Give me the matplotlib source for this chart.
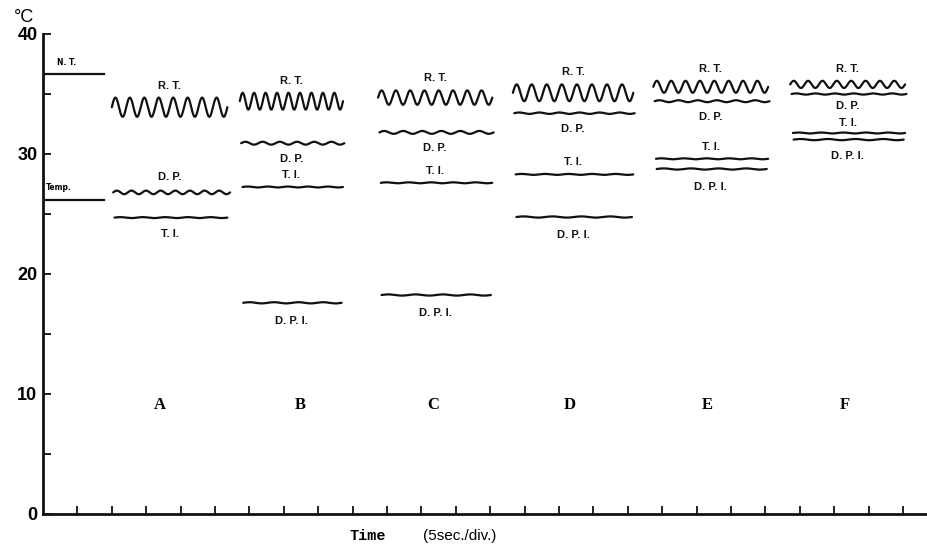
import numpy as np
import matplotlib.pyplot as plt

# Readings: x in seconds (5 s per division), y in deg C
groups = ['A', 'B', 'C', 'D', 'E', 'F']
group_x = [17.0, 37.4, 56.7, 76.6, 96.5, 116.6]

seg_start = [10.0, 28.6, 48.7, 68.3, 88.7, 108.6]
seg_end = [26.8, 43.6, 65.3, 85.8, 105.4, 125.3]

# room temperature (R.T.), oscillating
rt_level = [33.9, 34.4, 34.7, 35.1, 35.6, 35.8]
rt_amp = [0.8, 0.7, 0.6, 0.7, 0.5, 0.3]
rt_cycles = [8, 9, 8, 8, 8, 8]

# dew point (D.P.)
dp_level = [26.8, 30.9, 31.8, 33.4, 34.4, 35.0]
dp_amp = [0.15, 0.12, 0.12, 0.06, 0.08, 0.05]
dp_cycles = [8, 6, 6, 6, 6, 6]

# T.I. and D.P.I. (flat)
ti_level = [24.7, 27.25, 27.6, 28.3, 29.6, 31.75]
dpi_level = [None, 17.6, 18.25, 24.75, 28.75, 31.2]

# reference lines at the left
nt_level = 36.7
temp_level = 26.2
ref_end = 8.9

plt.rcParams['font.family'] = ['DejaVu Sans']

fig = plt.figure(figsize=(9.28, 5.53), dpi=100)
ax = fig.add_axes([43 / 928, 1 - 514 / 553, 1 - 43 / 928, 480 / 553])


def trace(x0, x1, level, amp=0.0, cycles=0):
    x = np.linspace(x0, x1, 400)
    y = level + amp * np.sin(2 * np.pi * cycles * (x - x0) / (x1 - x0))
    ax.plot(x, y, color='#111111', lw=1.6, solid_capstyle='round')


def label(x, y, text, dy):
    ax.annotate(text, (x, y), xytext=(0, dy), textcoords='offset pixels',
                ha='center', va='center', fontsize=8, fontweight='bold',
                family='Liberation Sans', color='#111111')


for i in range(len(groups)):
    x0, x1 = seg_start[i], seg_end[i]
    xc = (x0 + x1) / 2
    last = i == len(groups) - 1
    # R.T.
    trace(x0, x1, rt_level[i], rt_amp[i], rt_cycles[i])
    label(xc, rt_level[i] + rt_amp[i], 'R. T.', 12)
    # D.P.
    trace(x0 + 0.2, x1 + (0.4 if i == 0 else 0.2), dp_level[i], dp_amp[i], dp_cycles[i])
    if i == 0:
        label(xc, dp_level[i], 'D. P.', 15)
    else:
        label(xc, dp_level[i], 'D. P.', -12 if last else -16)
    # T.I.
    trace(x0 + 0.4, x1, ti_level[i], 0.04, 5)
    if i == 0:
        label(xc, ti_level[i], 'T. I.', -16)
    else:
        label(xc, ti_level[i], 'T. I.', 10 if last else 12)
    # D.P.I.
    if dpi_level[i] is not None:
        trace(x0 + 0.5, x1 - 0.2, dpi_level[i], 0.05, 4)
        label(xc, dpi_level[i], 'D. P. I.', -16 if last else -18)
    ax.text(group_x[i], 9.1, groups[i], ha='center', va='center',
            fontsize=12, fontweight='bold', family='Liberation Serif')

# N.T. and Temp. reference lines
ax.plot([0, ref_end], [nt_level, nt_level], color='#111111', lw=1.6)
ax.plot([0, ref_end], [temp_level, temp_level], color='#111111', lw=1.6)
ax.text(2.0, nt_level + 0.7, 'N. T.', fontsize=5.5, fontweight='bold')
ax.text(0.4, temp_level + 0.8, 'Temp.', fontsize=5.5, fontweight='bold')

ax.set_xlim(0, (928 - 43) / 6.88)
ax.set_ylim(0, 40)
ax.set_xticks(np.arange(5, 126, 5))
ax.set_xticklabels([])
ax.set_yticks(np.arange(0, 41, 5))
ax.set_yticklabels(['0', '', '10', '', '20', '', '30', '', '40'],
                   fontsize=13, fontweight='bold', family='Liberation Sans')
ax.tick_params(axis='both', direction='in', length=6, width=1.3, color='#111111')
ax.tick_params(axis='y', pad=4)
for s in ['top', 'right']:
    ax.spines[s].set_visible(False)
for s in ['left', 'bottom']:
    ax.spines[s].set_linewidth(2)
    ax.spines[s].set_color('#111111')

fig.text(24 / 928, 1 - 18 / 553, '°C', ha='center', va='center', fontsize=13,
         family='Liberation Sans')
fig.text(368 / 928, 1 - 536 / 553, 'Time', ha='center', va='center', fontsize=11,
         fontweight='bold', family='Liberation Mono')
fig.text(460 / 928, 1 - 536 / 553, '(5sec./div.)', ha='center', va='center',
         fontsize=11, family='Liberation Sans')

fig.savefig('out.png', dpi=100)
